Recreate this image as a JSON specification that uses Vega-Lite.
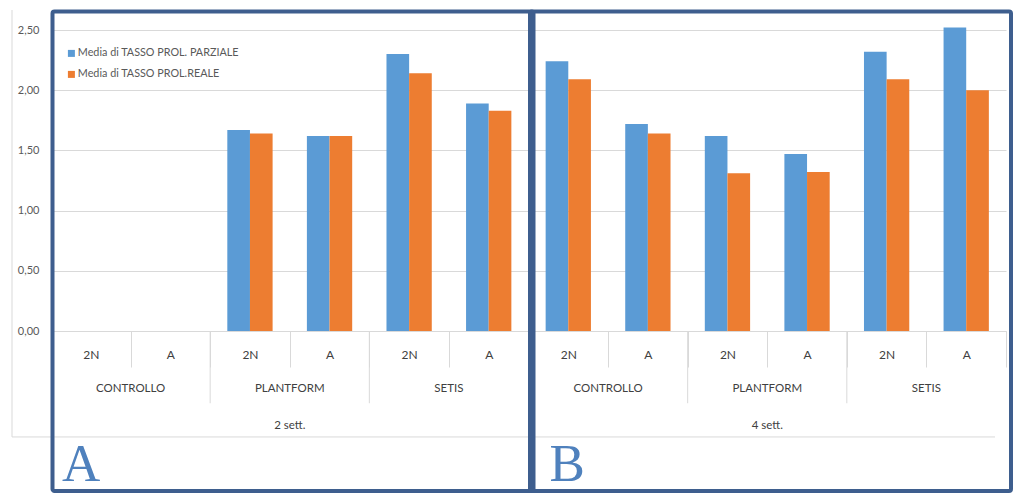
{
  "$schema": "https://vega.github.io/schema/vega-lite/v6.json",
  "autosize": "none",
  "width": 955,
  "height": 301,
  "padding": {"left": 51, "top": 30, "right": 18, "bottom": 170},
  "background": "white",
  "datasets": {
    "bars": [
      {"cat": "2 sett./PLANTFORM/2N", "serie": "Media di TASSO PROL. PARZIALE", "valore": 1.67},
      {"cat": "2 sett./PLANTFORM/2N", "serie": "Media di TASSO PROL.REALE", "valore": 1.64},
      {"cat": "2 sett./PLANTFORM/A", "serie": "Media di TASSO PROL. PARZIALE", "valore": 1.62},
      {"cat": "2 sett./PLANTFORM/A", "serie": "Media di TASSO PROL.REALE", "valore": 1.62},
      {"cat": "2 sett./SETIS/2N", "serie": "Media di TASSO PROL. PARZIALE", "valore": 2.30},
      {"cat": "2 sett./SETIS/2N", "serie": "Media di TASSO PROL.REALE", "valore": 2.14},
      {"cat": "2 sett./SETIS/A", "serie": "Media di TASSO PROL. PARZIALE", "valore": 1.89},
      {"cat": "2 sett./SETIS/A", "serie": "Media di TASSO PROL.REALE", "valore": 1.83},
      {"cat": "4 sett./CONTROLLO/2N", "serie": "Media di TASSO PROL. PARZIALE", "valore": 2.24},
      {"cat": "4 sett./CONTROLLO/2N", "serie": "Media di TASSO PROL.REALE", "valore": 2.09},
      {"cat": "4 sett./CONTROLLO/A", "serie": "Media di TASSO PROL. PARZIALE", "valore": 1.72},
      {"cat": "4 sett./CONTROLLO/A", "serie": "Media di TASSO PROL.REALE", "valore": 1.64},
      {"cat": "4 sett./PLANTFORM/2N", "serie": "Media di TASSO PROL. PARZIALE", "valore": 1.62},
      {"cat": "4 sett./PLANTFORM/2N", "serie": "Media di TASSO PROL.REALE", "valore": 1.31},
      {"cat": "4 sett./PLANTFORM/A", "serie": "Media di TASSO PROL. PARZIALE", "valore": 1.47},
      {"cat": "4 sett./PLANTFORM/A", "serie": "Media di TASSO PROL.REALE", "valore": 1.32},
      {"cat": "4 sett./SETIS/2N", "serie": "Media di TASSO PROL. PARZIALE", "valore": 2.32},
      {"cat": "4 sett./SETIS/2N", "serie": "Media di TASSO PROL.REALE", "valore": 2.09},
      {"cat": "4 sett./SETIS/A", "serie": "Media di TASSO PROL. PARZIALE", "valore": 2.52},
      {"cat": "4 sett./SETIS/A", "serie": "Media di TASSO PROL.REALE", "valore": 2.00}
    ],
    "groups": [
      {"week": "2 sett.", "group": "CONTROLLO", "cat": "2 sett./CONTROLLO/2N"},
      {"week": "2 sett.", "group": "PLANTFORM", "cat": "2 sett./PLANTFORM/2N"},
      {"week": "2 sett.", "group": "SETIS", "cat": "2 sett./SETIS/2N"},
      {"week": "4 sett.", "group": "CONTROLLO", "cat": "4 sett./CONTROLLO/2N"},
      {"week": "4 sett.", "group": "PLANTFORM", "cat": "4 sett./PLANTFORM/2N"},
      {"week": "4 sett.", "group": "SETIS", "cat": "4 sett./SETIS/2N"}
    ],
    "weeks": [
      {"week": "2 sett.", "panel": "A", "first": "2 sett./CONTROLLO/2N", "mid": "2 sett./PLANTFORM/2N", "last": "2 sett./SETIS/A"},
      {"week": "4 sett.", "panel": "B", "first": "4 sett./CONTROLLO/2N", "mid": "4 sett./PLANTFORM/2N", "last": "4 sett./SETIS/A"}
    ],
    "area": [
      {"from": "2 sett./CONTROLLO/2N", "to": "4 sett./SETIS/A"}
    ]
  },
  "layer": [
    {
      "data": {"name": "bars"},
      "mark": {"type": "bar"},
      "encoding": {
        "x": {
          "field": "cat", "type": "nominal", "title": null,
          "scale": {
            "domain": ["2 sett./CONTROLLO/2N", "2 sett./CONTROLLO/A", "2 sett./PLANTFORM/2N", "2 sett./PLANTFORM/A", "2 sett./SETIS/2N", "2 sett./SETIS/A",
                       "4 sett./CONTROLLO/2N", "4 sett./CONTROLLO/A", "4 sett./PLANTFORM/2N", "4 sett./PLANTFORM/A", "4 sett./SETIS/2N", "4 sett./SETIS/A"],
            "paddingInner": 0, "paddingOuter": 0
          },
          "axis": {
            "labelExpr": "split(datum.label, '/')[2]",
            "labelAngle": 0,
            "tickBand": "extent",
            "tickSize": 36,
            "tickColor": "#D9D9D9",
            "domainColor": "#D9D9D9",
            "labelPadding": -13,
            "labelBaseline": "middle",
            "labelFont": "Lato",
            "labelFontSize": 12,
            "labelColor": "#404040",
            "grid": false
          }
        },
        "xOffset": {
          "field": "serie", "type": "nominal",
          "scale": {"domain": ["Media di TASSO PROL. PARZIALE", "Media di TASSO PROL.REALE"], "paddingInner": 0, "paddingOuter": 0.757}
        },
        "y": {
          "field": "valore", "type": "quantitative", "title": null,
          "scale": {"domain": [0, 2.5], "nice": false, "zero": true},
          "axis": {
            "values": [0, 0.5, 1, 1.5, 2, 2.5],
            "labelExpr": "replace(format(datum.value, '.2f'), '.', ',')",
            "labelFont": "Lato",
            "labelFontSize": 11,
            "labelColor": "#595959",
            "labelPadding": 12,
            "grid": true,
            "gridColor": "#D9D9D9",
            "domain": false,
            "ticks": false
          }
        },
        "color": {
          "field": "serie", "type": "nominal",
          "scale": {"domain": ["Media di TASSO PROL. PARZIALE", "Media di TASSO PROL.REALE"], "range": ["#5B9BD5", "#ED7D31"]},
          "legend": {
            "title": null,
            "orient": "none",
            "legendX": 15,
            "legendY": 18,
            "symbolType": "square",
            "symbolSize": 49,
            "symbolStrokeWidth": 0,
            "labelFont": "Lato",
            "labelFontSize": 10.8,
            "labelLimit": 0,
            "labelColor": "#595959",
            "rowPadding": 9,
            "padding": 0,
            "labelOffset": 1
          }
        }
      }
    },
    {
      "data": {"name": "groups"},
      "transform": [{"filter": "datum.group !== 'CONTROLLO'"}],
      "mark": {"type": "rule", "color": "#D9D9D9", "strokeWidth": 1},
      "encoding": {
        "x": {"field": "cat", "type": "nominal", "bandPosition": 0, "title": null},
        "y": {"datum": 0, "type": "quantitative", "title": null},
        "y2": {"datum": -0.6}
      }
    },
    {
      "data": {"name": "groups"},
      "mark": {"type": "text", "font": "Lato", "fontSize": 11.5, "color": "#404040", "baseline": "middle", "align": "center"},
      "encoding": {
        "x": {"field": "cat", "type": "nominal", "bandPosition": 1, "title": null},
        "y": {"datum": -0.48, "type": "quantitative", "title": null},
        "text": {"field": "group"}
      }
    },
    {
      "data": {"name": "weeks"},
      "mark": {"type": "text", "font": "Lato", "fontSize": 11.5, "color": "#404040", "baseline": "middle", "align": "center"},
      "encoding": {
        "x": {"field": "mid", "type": "nominal", "bandPosition": 1, "title": null},
        "y": {"datum": -0.79, "type": "quantitative", "title": null},
        "text": {"field": "week"}
      }
    },
    {
      "data": {"name": "area"},
      "mark": {"type": "rule", "color": "#D9D9D9", "strokeWidth": 1, "xOffset": -39},
      "encoding": {
        "x": {"field": "from", "type": "nominal", "bandPosition": 0, "title": null},
        "y": {"datum": 2.666, "type": "quantitative", "title": null},
        "y2": {"datum": -0.88}
      }
    },
    {
      "data": {"name": "area"},
      "mark": {"type": "rule", "color": "#D9D9D9", "strokeWidth": 1, "xOffset": -39, "x2Offset": -11},
      "encoding": {
        "x": {"field": "from", "type": "nominal", "bandPosition": 0, "title": null},
        "x2": {"field": "to", "bandPosition": 1},
        "y": {"datum": -0.88, "type": "quantitative", "title": null}
      }
    },
    {
      "data": {"name": "weeks"},
      "mark": {"type": "rect", "filled": false, "stroke": "#3E5E8E", "strokeWidth": 4, "cornerRadius": 2, "xOffset": 1.5, "x2Offset": 5},
      "encoding": {
        "x": {"field": "first", "type": "nominal", "bandPosition": 0, "title": null},
        "x2": {"field": "last", "bandPosition": 1},
        "y": {"datum": 2.653, "type": "quantitative", "title": null},
        "y2": {"datum": -1.329}
      }
    },
    {
      "data": {"name": "weeks"},
      "transform": [{"filter": "datum.panel === 'A'"}],
      "mark": {"type": "text", "font": "Liberation Serif", "fontSize": 53, "color": "#4F81BD", "baseline": "alphabetic", "align": "left", "dx": 11},
      "encoding": {
        "x": {"field": "first", "type": "nominal", "bandPosition": 0, "title": null},
        "y": {"datum": -1.246, "type": "quantitative", "title": null},
        "text": {"field": "panel"}
      }
    },
    {
      "data": {"name": "weeks"},
      "transform": [{"filter": "datum.panel === 'B'"}],
      "mark": {"type": "text", "font": "Liberation Serif", "fontSize": 53, "color": "#4F81BD", "baseline": "alphabetic", "align": "left", "dx": 21},
      "encoding": {
        "x": {"field": "first", "type": "nominal", "bandPosition": 0, "title": null},
        "y": {"datum": -1.246, "type": "quantitative", "title": null},
        "text": {"field": "panel"}
      }
    }
  ],
  "config": {
    "view": {"stroke": null},
    "font": "Lato"
  }
}
